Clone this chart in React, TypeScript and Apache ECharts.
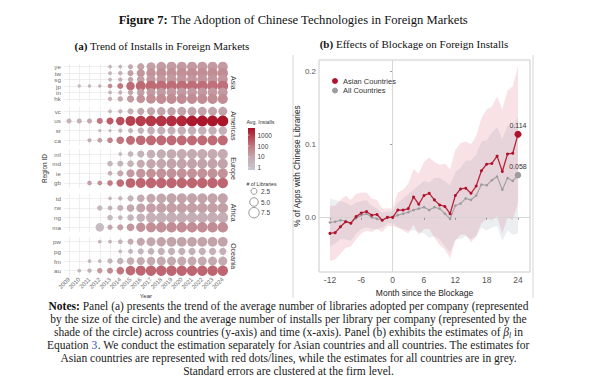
import { useEffect, useRef } from 'react';
import * as echarts from 'echarts';

const SANS = '"Liberation Sans", Arial, Helvetica, sans-serif';
const SERIF = '"Liberation Serif", "Times New Roman", serif';

// ---------- Panel (a) data ----------
const years = ['2009', '2010', '2011', '2012', '2013', '2014', '2015', '2016', '2017', '2018', '2019', '2020', '2021', '2022', '2023', '2024'];
const continents = ['Asia', 'Americas', 'Europe', 'Africa', 'Oceania'];

const asiaRegions = ['ye', 'tw', 'sg', 'jp', 'in', 'hk'];
const asiaLibs = [
  [null, null, null, null, 1.0, 1.0, 1.8, 3.5, 5.5, 6.5, 7.0, 7.0, 7.0, 7.0, 7.0, 7.0],
  [null, null, null, null, 1.0, 1.3, 2.5, 4.5, 6.0, 7.0, 7.0, 7.5, 7.5, 7.5, 7.5, 7.5],
  [null, null, null, null, 1.0, 1.3, 2.0, 4.0, 6.0, 6.5, 7.0, 7.0, 7.0, 7.0, 7.0, 7.0],
  [null, 0.8, 0.8, 0.8, 1.5, 2.5, 5.0, 7.0, 8.0, 8.0, 8.0, 8.0, 8.0, 8.0, 8.0, 8.0],
  [null, null, null, null, 1.0, 1.2, 2.0, 4.0, 5.5, 6.0, 6.5, 6.5, 6.5, 6.5, 6.5, 6.5],
  [null, null, null, null, 1.2, 2.0, 3.5, 5.0, 6.5, 7.0, 7.0, 7.0, 7.0, 7.0, 7.0, 7.0],
];
const asiaInstalls = [
  [null, null, null, null, 3, 4, 8, 12, 15, 18, 18, 20, 20, 20, 20, 20],
  [null, null, null, null, 4, 6, 15, 25, 30, 35, 35, 35, 40, 40, 40, 40],
  [null, null, null, null, 4, 6, 10, 15, 20, 22, 22, 25, 25, 25, 25, 25],
  [null, 3, 4, 6, 40, 100, 160, 170, 160, 150, 150, 150, 140, 140, 130, 130],
  [null, null, null, null, 4, 6, 10, 15, 18, 18, 20, 20, 20, 20, 20, 20],
  [null, null, null, null, 6, 10, 20, 30, 35, 40, 40, 40, 40, 40, 40, 40],
];

const americasRegions = ['vc', 'us', 'sr', 'ca'];
const americasLibs = [
  [null, null, null, null, 1.0, 1.3, 2.5, 3.5, 4.5, 5.0, 5.0, 5.5, 5.5, 5.5, 5.5, 5.5],
  [1.8, 1.8, 1.8, 2.5, 3.5, 5.0, 7.0, 7.5, 8.0, 8.0, 8.0, 8.0, 8.5, 8.5, 8.5, 8.5],
  [null, null, null, 0.8, 0.8, 1.2, 1.8, 2.8, 4.0, 4.5, 4.5, 5.0, 5.0, 5.0, 5.0, 5.0],
  [null, null, 1.2, 1.6, 2.2, 4.0, 5.5, 6.5, 7.0, 7.0, 7.0, 7.0, 7.0, 7.0, 7.0, 7.0],
];
const americasInstalls = [
  [null, null, null, null, 3, 4, 6, 10, 10, 12, 12, 12, 12, 12, 12, 12],
  [4, 5, 10, 100, 300, 500, 800, 900, 1000, 1200, 1500, 1800, 3000, 3500, 3500, 3800],
  [null, null, null, 2, 2, 3, 4, 5, 6, 6, 6, 6, 6, 6, 6, 6],
  [null, null, 8, 15, 60, 100, 150, 160, 160, 160, 160, 160, 160, 160, 160, 160],
];

const europeRegions = ['ml', 'md', 'ie', 'gb'];
const europeLibs = [
  [null, null, null, null, null, 1.0, 2.2, 3.5, 5.0, 6.0, 6.5, 7.0, 7.0, 7.0, 7.0, 7.0],
  [null, null, null, null, 2.2, 2.5, 3.0, 4.5, 6.0, 6.5, 7.0, 7.0, 7.0, 7.0, 7.0, 7.0],
  [null, null, null, null, 1.5, 2.5, 4.5, 6.0, 6.5, 7.0, 7.0, 7.0, 7.0, 7.0, 7.0, 7.0],
  [null, null, 1.5, 1.6, 2.2, 4.0, 6.5, 7.0, 7.5, 7.5, 7.5, 7.5, 7.5, 7.5, 7.5, 7.5],
];
const europeInstalls = [
  [null, null, null, null, null, 2, 3, 5, 6, 7, 8, 8, 8, 8, 8, 8],
  [null, null, null, null, 3, 4, 5, 8, 10, 10, 12, 12, 12, 12, 12, 12],
  [null, null, null, null, 6, 10, 20, 25, 30, 30, 30, 30, 30, 30, 30, 30],
  [null, null, 15, 30, 80, 150, 200, 200, 200, 200, 200, 200, 200, 200, 200, 200],
];

const africaRegions = ['td', 'rw', 'ng', 'ma'];
const africaLibs = [
  [null, null, null, null, 1.0, 1.3, 2.5, 4.0, 5.5, 6.5, 7.0, 7.0, 7.0, 7.0, 7.0, 7.0],
  [null, null, null, 2.0, 1.6, 2.5, 4.0, 5.5, 6.5, 7.0, 7.5, 7.5, 7.5, 7.5, 7.5, 7.5],
  [null, null, null, null, 2.2, 1.5, 3.0, 5.0, 7.0, 8.0, 8.0, 8.0, 8.0, 8.0, 8.0, 8.0],
  [null, null, null, 5.0, 2.0, 2.5, 4.0, 6.0, 7.0, 7.5, 7.5, 7.5, 7.5, 7.5, 7.5, 7.5],
];
const africaInstalls = [
  [null, null, null, null, 2.5, 3, 5, 8, 10, 10, 12, 12, 12, 12, 12, 12],
  [null, null, null, 3, 5, 6, 10, 12, 14, 15, 15, 15, 15, 15, 15, 15],
  [null, null, null, null, 2.5, 3, 4, 5, 6, 6, 7, 7, 7, 7, 7, 7],
  [null, null, null, 2, 10, 15, 25, 30, 35, 35, 40, 40, 40, 40, 40, 40],
];

const oceaniaRegions = ['pw', 'pg', 'fm', 'au'];
const oceaniaLibs = [
  [null, null, null, 1.0, 1.0, 1.5, 2.5, 4.5, 5.5, 6.0, 6.5, 6.5, 6.5, 6.5, 6.5, 6.5],
  [null, null, null, null, null, 1.0, 1.8, 2.5, 3.0, 3.5, 3.5, 3.5, 3.5, 3.5, 3.5, 3.5],
  [null, null, 1.0, 1.0, 2.0, 3.0, 4.0, 4.5, 5.0, 5.5, 5.5, 5.5, 5.5, 5.5, 5.5, 5.5],
  [null, 1.0, 1.3, 2.0, 2.5, 4.0, 6.5, 7.0, 7.5, 7.5, 7.5, 7.5, 7.5, 7.5, 7.5, 7.5],
];
const oceaniaInstalls = [
  [null, null, null, 3, 4, 5, 8, 10, 10, 12, 12, 12, 12, 12, 12, 12],
  [null, null, null, null, null, 2, 3, 4, 5, 5, 6, 6, 6, 6, 6, 6],
  [null, null, 3, 3, 4, 5, 7, 8, 8, 9, 9, 9, 9, 9, 9, 9],
  [null, 3, 6, 20, 40, 100, 160, 200, 200, 200, 200, 200, 200, 200, 200, 200],
];

const sizeLegendValues = [2.5, 5.0, 7.5];
const installTicks = [1000, 100, 10, 1];
const installColors = ['#c6c5d1', '#c4b1b7', '#c2878f', '#ba4f5b', '#a80f25'];
const logMin = -0.2;
const logMax = 3.65;

// ---------- Panel (b) data ----------
const months = [-12, -11, -10, -9, -8, -7, -6, -5, -4, -3, -2, -1, 0, 1, 2, 3, 4, 5, 6, 7, 8, 9, 10, 11, 12, 13, 14, 15, 16, 17, 18, 19, 20, 21, 22, 23, 24];
const asianEst = [-0.022, -0.021, -0.013, -0.006, -0.008, 0.001, 0.006, 0.008, 0.003, 0.004, -0.004, 0.0, 0.0, 0.010, 0.010, 0.012, 0.028, 0.018, 0.030, 0.033, 0.024, 0.017, 0.015, 0.005, 0.030, 0.039, 0.040, 0.033, 0.043, 0.064, 0.073, 0.074, 0.084, 0.063, 0.087, 0.088, 0.114];
const asianLo = [-0.060, -0.058, -0.050, -0.042, -0.040, -0.030, -0.022, -0.018, -0.020, -0.016, -0.020, -0.012, -0.012, -0.014, -0.018, -0.022, -0.010, -0.024, -0.016, -0.016, -0.028, -0.038, -0.044, -0.056, -0.032, -0.024, -0.024, -0.034, -0.026, -0.008, -0.002, -0.004, 0.002, -0.022, 0.000, -0.004, 0.020];
const asianHi = [0.016, 0.016, 0.024, 0.030, 0.024, 0.032, 0.034, 0.034, 0.026, 0.024, 0.012, 0.012, 0.012, 0.034, 0.038, 0.046, 0.066, 0.060, 0.076, 0.082, 0.076, 0.072, 0.074, 0.066, 0.092, 0.102, 0.104, 0.100, 0.112, 0.136, 0.148, 0.152, 0.166, 0.148, 0.174, 0.180, 0.208];
const allEst = [-0.007, -0.006, -0.004, -0.005, -0.008, -0.001, 0.003, 0.005, 0.0, -0.002, -0.004, 0.0, 0.0, 0.003, 0.005, 0.007, 0.010, 0.012, 0.014, 0.010, 0.014, 0.012, 0.005, -0.002, 0.016, 0.019, 0.026, 0.024, 0.030, 0.045, 0.044, 0.051, 0.056, 0.038, 0.054, 0.050, 0.058];
const allLo = [-0.040, -0.036, -0.030, -0.030, -0.032, -0.022, -0.016, -0.014, -0.016, -0.016, -0.014, -0.008, -0.008, -0.014, -0.016, -0.018, -0.018, -0.020, -0.022, -0.028, -0.026, -0.030, -0.040, -0.048, -0.030, -0.030, -0.026, -0.030, -0.026, -0.014, -0.018, -0.014, -0.012, -0.032, -0.018, -0.024, -0.022];
const allHi = [0.026, 0.024, 0.022, 0.020, 0.016, 0.020, 0.022, 0.024, 0.016, 0.012, 0.006, 0.008, 0.008, 0.020, 0.026, 0.032, 0.038, 0.044, 0.050, 0.048, 0.054, 0.054, 0.050, 0.044, 0.062, 0.068, 0.078, 0.078, 0.086, 0.104, 0.106, 0.116, 0.124, 0.108, 0.126, 0.124, 0.138];
const monthTicks = [-12, -6, 0, 6, 12, 18, 24];
const shareTicks = [0, 0.1, 0.2];

const notesLines = [
  '{b|Notes:} Panel (a) presents the trend of the average number of libraries adopted per company (represented',
  'by the size of the circle) and the average number of installs per library per company (represented by the',
  'shade of the circle) across countries (y-axis) and time (x-axis). Panel (b) exhibits the estimates of {i|β}{s|l} in',
  'Equation {u|3}. We conduct the estimation separately for Asian countries and all countries. The estimates for',
  'Asian countries are represented with red dots/lines, while the estimates for all countries are in grey.',
  'Standard errors are clustered at the firm level.',
];

const sizeOf = (libs: number) => 3.8 * Math.sqrt(libs);
const NOTE_FS = 11.5;

function bandSeries(name: string, lo: number[], hi: number[], fill: string) {
  return {
    name,
    type: 'custom',
    xAxisIndex: 5,
    yAxisIndex: 5,
    silent: true,
    z: 2,
    data: months.map((m, i) => [m, lo[i], hi[i]]),
    encode: { x: 0, y: [1, 2] },
    renderItem: (params: any, api: any) => {
      if (params.dataIndex !== 0) return null;
      const upper = months.map((m, i) => api.coord([m, hi[i]]));
      const lower = months.map((m, i) => api.coord([m, lo[i]])).reverse();
      return { type: 'polygon', shape: { points: upper.concat(lower) }, style: { fill } };
    },
  };
}

function buildOption() {
  const facetRegions = [asiaRegions, americasRegions, europeRegions, africaRegions, oceaniaRegions];
  const facetLibs = [asiaLibs, americasLibs, europeLibs, africaLibs, oceaniaLibs];
  const facetInstalls = [asiaInstalls, americasInstalls, europeInstalls, africaInstalls, oceaniaInstalls];
  const facetTop = [63.5, 106.5, 149.2, 193.5, 236.9];
  const facetH = 38.6;
  const aLeft = 63.9;
  const aWidth = 164;

  const grid: any[] = facetTop.map((t) => ({ left: aLeft, top: t, width: aWidth, height: facetH }));
  grid.push({ left: 319, top: 60, width: 211, height: 212, show: true, borderColor: '#cbcbcb', borderWidth: 1 });

  const xAxis: any[] = continents.map((_, i) => ({
    type: 'category',
    gridIndex: i,
    data: years,
    boundaryGap: true,
    axisLine: { show: false },
    axisTick: { show: false },
    splitLine: { show: false },
    axisLabel: { show: i === 4, interval: 0, rotate: 45, fontSize: 6, color: '#6b6b6b', margin: 3, fontFamily: SANS },
    name: i === 4 ? 'Year' : '',
    nameLocation: 'middle',
    nameGap: 17,
    nameTextStyle: { fontSize: 6, color: '#333', fontFamily: SANS },
  }));
  xAxis.push({
    type: 'value',
    gridIndex: 5,
    min: -14.1,
    max: 26.3,
    axisLine: { show: false },
    splitLine: { show: false },
    axisTick: { show: true, customValues: monthTicks, length: 2.5, lineStyle: { color: '#999' } },
    axisLabel: { customValues: monthTicks, fontSize: 8.5, color: '#555', margin: 3, fontFamily: SANS },
    name: 'Month since the Blockage',
    nameLocation: 'middle',
    nameGap: 11,
    nameTextStyle: { fontSize: 8.5, color: '#222', fontFamily: SANS },
  });

  const yAxis: any[] = continents.map((_, i) => ({
    type: 'category',
    gridIndex: i,
    data: facetRegions[i],
    inverse: true,
    axisLine: { show: false },
    axisTick: { show: false },
    splitLine: { show: false },
    axisLabel: { interval: 0, fontSize: 6.2, color: '#6b6b6b', margin: 3, fontFamily: SANS },
    name: i === 2 ? 'Region ID' : '',
    nameLocation: 'middle',
    nameGap: 13,
    nameTextStyle: { fontSize: 6.5, color: '#333', fontFamily: SANS },
  }));
  yAxis.push({
    type: 'value',
    gridIndex: 5,
    min: -0.075,
    max: 0.216,
    axisLine: { show: false },
    splitLine: { show: false },
    axisTick: { show: true, customValues: shareTicks, length: 2.5, lineStyle: { color: '#999' } },
    axisLabel: { customValues: shareTicks, formatter: (v: number) => v.toFixed(1), fontSize: 8, color: '#555', margin: 3, fontFamily: SANS },
    name: '% of Apps with Chinese Libraries',
    nameLocation: 'middle',
    nameGap: 18,
    nameTextStyle: { fontSize: 8.3, color: '#222', fontFamily: SANS },
  });

  const series: any[] = continents.map((_, i) => {
    const data: any[] = [];
    facetRegions[i].forEach((r, ri) => {
      years.forEach((y, yi) => {
        const l = facetLibs[i][ri][yi];
        const n = facetInstalls[i][ri][yi];
        if (l != null && n != null) data.push([y, r, l, Math.log10(n)]);
      });
    });
    return {
      type: 'scatter',
      xAxisIndex: i,
      yAxisIndex: i,
      data,
      symbolSize: (v: any) => sizeOf(v[2]),
      itemStyle: { opacity: 1 },
      z: 3,
      silent: true,
      markLine: {
        silent: true,
        symbol: ['none', 'none'],
        label: { show: false },
        z: 1,
        lineStyle: { color: '#e6e6e6', width: 0.7, type: 'solid' },
        data: [...years.map((y) => ({ xAxis: y })), ...facetRegions[i].map((r) => ({ yAxis: r }))],
      },
    };
  });

  series.push(
    bandSeries('allBand', allLo, allHi, 'rgba(140,158,176,0.17)'),
    bandSeries('asiaBand', asianLo, asianHi, 'rgba(205,60,80,0.15)'),
    {
      name: 'All Countries', type: 'line', xAxisIndex: 5, yAxisIndex: 5,
      data: months.map((m, i) => i === months.length - 1
        ? { value: [m, allEst[i]], symbolSize: 6.5, label: { show: true, position: 'top', distance: 2, fontSize: 7, color: '#333', fontFamily: SANS, formatter: (p: any) => p.value[1].toFixed(3) } }
        : [m, allEst[i]]),
      symbol: 'circle', symbolSize: 2.6, color: '#9c9c9c', lineStyle: { width: 1.1, color: '#a0a0a0' }, z: 6, silent: true,
      markLine: {
        silent: true, symbol: ['none', 'none'], label: { show: false }, z: 3,
        lineStyle: { color: '#d2d2d2', width: 0.9, type: 'solid' },
        data: [{ xAxis: 0 }, { yAxis: 0 }],
      },
    },
    {
      name: 'Asian Countries', type: 'line', xAxisIndex: 5, yAxisIndex: 5,
      data: months.map((m, i) => i === months.length - 1
        ? { value: [m, asianEst[i]], symbolSize: 7, label: { show: true, position: 'top', distance: 2, fontSize: 7, color: '#333', fontFamily: SANS, formatter: (p: any) => p.value[1].toFixed(3) } }
        : [m, asianEst[i]]),
      symbol: 'circle', symbolSize: 3, color: '#b0112d', lineStyle: { width: 1.3, color: '#b8243c' }, z: 7, silent: true,
    },
  );

  const barTop = 128, barH = 42, barX = 248, barW = 7;
  const logToY = (lv: number) => barTop + ((logMax - lv) / (logMax - logMin)) * barH;
  const stops = installColors.map((c, i) => ({ offset: 1 - i / (installColors.length - 1), color: c }));

  const graphic: any[] = [
    {
      type: 'text', x: 293.5, y: 20,
      style: {
        text: '{b|Figure 7:} The Adoption of Chinese Technologies in Foreign Markets',
        rich: { b: { fontWeight: 'bold', fontSize: 12.6, fontFamily: SERIF, fill: '#111' } },
        fontSize: 12.6, fontFamily: SERIF, fill: '#111', align: 'center', verticalAlign: 'middle',
      },
    },
    {
      type: 'text', x: 162, y: 46,
      style: {
        text: '{b|(a)} Trend of Installs in Foreign Markets',
        rich: { b: { fontWeight: 'bold', fontSize: 11, fontFamily: SERIF, fill: '#111' } },
        fontSize: 11, fontFamily: SERIF, fill: '#111', align: 'center', verticalAlign: 'middle',
      },
    },
    {
      type: 'text', x: 414, y: 44,
      style: {
        text: '{b|(b)} Effects of Blockage on Foreign Installs',
        rich: { b: { fontWeight: 'bold', fontSize: 11, fontFamily: SERIF, fill: '#111' } },
        fontSize: 11, fontFamily: SERIF, fill: '#111', align: 'center', verticalAlign: 'middle',
      },
    },
    { type: 'line', shape: { x1: 293, y1: 55, x2: 293, y2: 298 }, style: { stroke: '#d6d6d6', lineWidth: 1 } },
    { type: 'line', shape: { x1: 533, y1: 55, x2: 533, y2: 298 }, style: { stroke: '#d6d6d6', lineWidth: 1 } },
    ...continents.map((c, i) => ({
      type: 'text', x: 233.5, y: facetTop[i] + facetH / 2, rotation: -Math.PI / 2,
      style: { text: c, fontSize: 7, fontFamily: SANS, fill: '#333', align: 'center', verticalAlign: 'middle' },
    })),
    { type: 'text', x: 246.5, y: 122, style: { text: 'Avg. Installs', fontSize: 5.2, fontFamily: SANS, fill: '#333', align: 'left', verticalAlign: 'middle' } },
    {
      type: 'rect', shape: { x: barX, y: barTop, width: barW, height: barH },
      style: { fill: { type: 'linear', x: 0, y: 0, x2: 0, y2: 1, colorStops: stops.slice().reverse() } },
    },
    ...installTicks.map((t) => ({
      type: 'text', x: barX + barW + 2.5, y: logToY(Math.log10(t)),
      style: { text: String(t), fontSize: 6.5, fontFamily: SANS, fill: '#444', align: 'left', verticalAlign: 'middle' },
    })),
    ...installTicks.map((t) => ({
      type: 'line', shape: { x1: barX, y1: logToY(Math.log10(t)), x2: barX + 1.5, y2: logToY(Math.log10(t)) },
      style: { stroke: '#fff', lineWidth: 0.6 },
    })),
    { type: 'text', x: 246.5, y: 184, style: { text: '# of Libraries', fontSize: 5.2, fontFamily: SANS, fill: '#333', align: 'left', verticalAlign: 'middle' } },
    ...sizeLegendValues.map((v, i) => ({
      type: 'circle', shape: { cx: 254, cy: 191.3 + i * 10.7, r: sizeOf(v) / 2 },
      style: { fill: 'none', stroke: '#555', lineWidth: 0.6 },
    })),
    ...sizeLegendValues.map((v, i) => ({
      type: 'text', x: 261, y: 191.3 + i * 10.7,
      style: { text: v.toFixed(1), fontSize: 6.5, fontFamily: SANS, fill: '#444', align: 'left', verticalAlign: 'middle' },
    })),
    ...notesLines.map((line, i) => ({
      type: 'text', x: 288.5, y: 306 + i * 13,
      style: {
        text: line,
        fontSize: NOTE_FS, fontFamily: SERIF, fill: '#1a1a1a', align: 'center', verticalAlign: 'middle',
        rich: {
          b: { fontWeight: 'bold', fontSize: NOTE_FS, fontFamily: SERIF, fill: '#111' },
          i: { fontStyle: 'italic', fontSize: NOTE_FS, fontFamily: SERIF, fill: '#1a1a1a' },
          s: { fontStyle: 'italic', fontSize: 7.5, fontFamily: SERIF, fill: '#1a1a1a', padding: [6, 0, 0, 0] },
          u: { fontSize: NOTE_FS, fontFamily: SERIF, fill: '#2f4fc4' },
        },
      },
    })),
  ];

  return {
    animation: false,
    backgroundColor: '#ffffff',
    textStyle: { fontFamily: SANS },
    grid,
    xAxis,
    yAxis,
    visualMap: {
      type: 'continuous', show: false, dimension: 3, seriesIndex: [0, 1, 2, 3, 4],
      min: logMin, max: logMax, inRange: { color: installColors },
    },
    legend: {
      data: ['Asian Countries', 'All Countries'],
      orient: 'vertical', left: 327, top: 72, itemWidth: 6, itemHeight: 6, itemGap: 1.5,
      icon: 'circle', selectedMode: false,
      textStyle: { fontSize: 7.5, color: '#333', fontFamily: SANS },
    },
    series,
    graphic,
  };
}

export default function App() {
  const ref = useRef<HTMLDivElement>(null);
  useEffect(() => {
    if (!ref.current) return;
    const chart = echarts.init(ref.current, undefined, { renderer: 'svg' });
    chart.setOption(buildOption() as any);
    return () => chart.dispose();
  }, []);
  return <div ref={ref} style={{ position: 'absolute', left: 0, top: 0, width: 589, height: 392 }} />;
}
